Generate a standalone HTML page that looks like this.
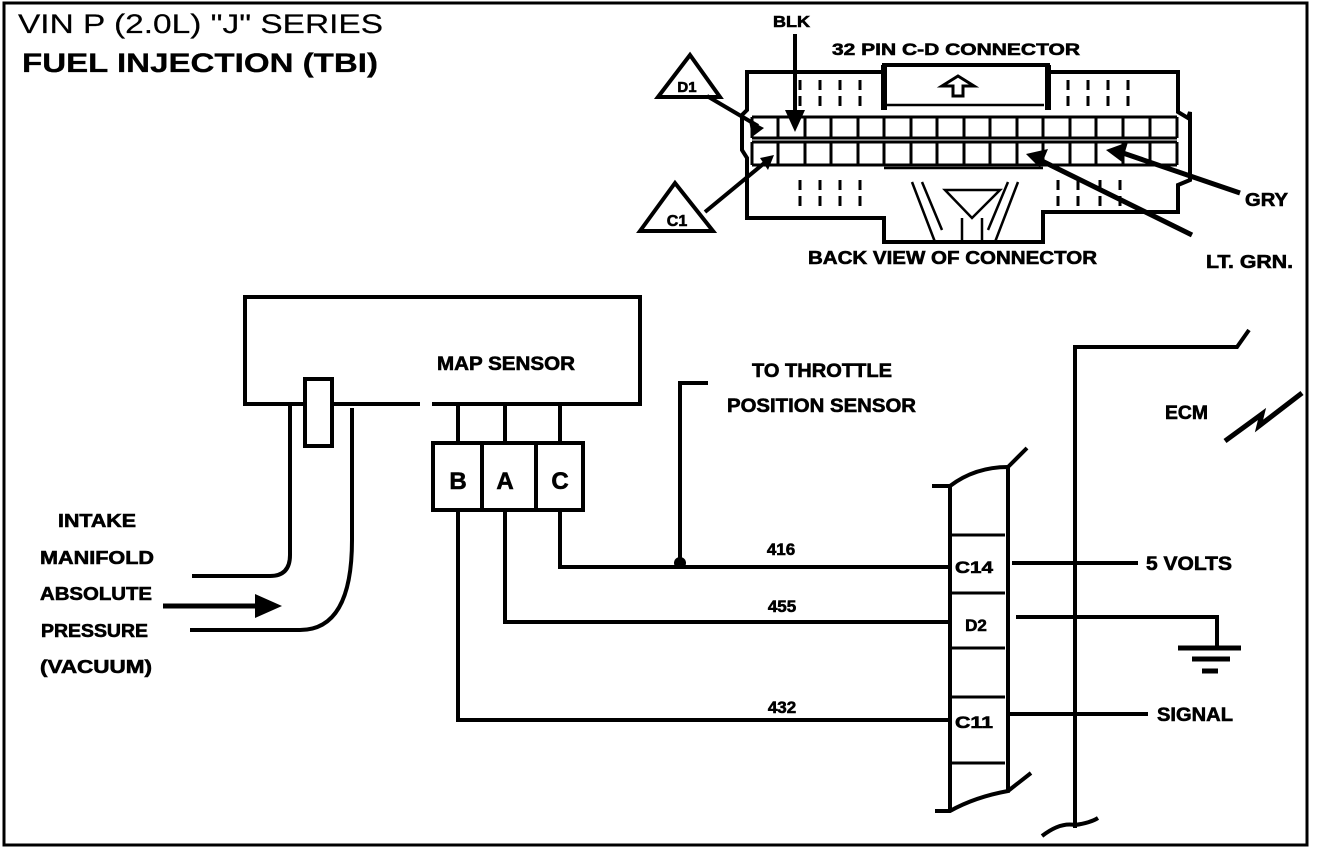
<!DOCTYPE html>
<html><head><meta charset="utf-8"><style>
html,body{margin:0;padding:0;background:#fff;}
svg{display:block;}
text{font-family:"Liberation Sans",sans-serif;font-weight:bold;fill:#000;stroke:#000;stroke-width:0.6;}
</style></head><body>
<svg width="1328" height="852" viewBox="0 0 1328 852" xmlns="http://www.w3.org/2000/svg">
<rect x="0" y="0" width="1328" height="852" fill="#fff"/>
<rect x="4" y="3" width="1303" height="842" fill="none" stroke="#000" stroke-width="3"/>
<text x="18" y="33" textLength="365" lengthAdjust="spacingAndGlyphs" style="font-weight:normal;stroke-width:0.2;font-size:27px">VIN P (2.0L) "J" SERIES</text>
<text x="22" y="72" textLength="356" lengthAdjust="spacingAndGlyphs" style="font-size:27px;stroke-width:0.3">FUEL INJECTION (TBI)</text>

<g stroke="#000" fill="none" stroke-width="4">
<path d="M747 72 H884 V65 H1048 V72 H1178 V112 L1188 118 L1190 112 V180 L1178 185 V212 H1043 V242 H884 V218 H747 V158 L742 150 V115 L747 110 Z"/>
<line x1="884" y1="65" x2="884" y2="110" stroke-width="6"/>
<line x1="1048" y1="65" x2="1048" y2="110" stroke-width="6"/>
<path d="M884 105 H1044 M884 168 H1043" stroke-width="2.5"/>
<path d="M953 96 V86 H942 L958 76 L974 86 H963 V96 Z" stroke-width="3"/>
<path d="M912 182 L935 242 M922 182 L942 230 M1018 182 L995 242 M1008 182 L988 230 M945 190 H1000 L972 218 Z M962 218 V242 M982 218 V242" stroke-width="2.5"/>
<g stroke-width="3" stroke-dasharray="10,6">
<path d="M800 80 V108 M820 80 V108 M840 80 V108 M860 80 V108 M1068 80 V108 M1088 80 V108 M1108 80 V108 M1128 80 V108"/>
<path d="M800 180 V212 M820 180 V212 M840 180 V212 M860 180 V212 M1058 180 V212 M1078 180 V212 M1100 180 V212 M1120 180 V212"/>
</g>
<g stroke-width="3">
<path d="M752 117 H1177 M752 138 H1177 M752 142 H1177 M752 165 H1177"/>
<path d="M752 117V138 M778 117V138 M805 117V138 M831 117V138 M858 117V138 M884 117V138 M911 117V138 M937 117V138 M964 117V138 M990 117V138 M1017 117V138 M1043 117V138 M1070 117V138 M1096 117V138 M1123 117V138 M1150 117V138 M1177 117V138"/>
<path d="M752 142V165 M778 142V165 M805 142V165 M831 142V165 M858 142V165 M884 142V165 M911 142V165 M937 142V165 M964 142V165 M990 142V165 M1017 142V165 M1043 142V165 M1070 142V165 M1096 142V165 M1123 142V165 M1150 142V165 M1177 142V165"/>
</g>
<path d="M658 97 L690 55 L720 97 Z"/>
<path d="M640 231 L675 183 L713 231 Z"/>
<line x1="707" y1="96" x2="758" y2="126"/>
<line x1="705" y1="212" x2="768" y2="160"/>
<line x1="795" y1="34" x2="795" y2="115" stroke-width="4"/>
<line x1="1240" y1="193" x2="1120" y2="152" stroke-width="5"/>
<line x1="1192" y1="235" x2="1040" y2="160" stroke-width="5"/>
</g>
<g fill="#000">
<path d="M785 110 L805 110 L795 132 Z"/>
<path d="M749 120 L764 128 L752 137 Z"/>
<path d="M760 158 L774 155 L768 170 Z"/>
<path d="M1106 150 L1128 142 L1122 162 Z"/>
<path d="M1026 154 L1048 149 L1040 168 Z"/>
</g>
<text x="687" y="92" font-size="15" text-anchor="middle">D1</text>
<text x="677" y="226" font-size="16" text-anchor="middle">C1</text>
<text x="773" y="27" font-size="16" textLength="37" lengthAdjust="spacingAndGlyphs">BLK</text>
<text x="832" y="55" font-size="17" textLength="248" lengthAdjust="spacingAndGlyphs">32 PIN C-D  CONNECTOR</text>
<text x="808" y="264" font-size="18" textLength="289" lengthAdjust="spacingAndGlyphs">BACK VIEW OF CONNECTOR</text>
<text x="1245" y="206" font-size="18" textLength="43" lengthAdjust="spacingAndGlyphs">GRY</text>
<text x="1206" y="268" font-size="18" textLength="87" lengthAdjust="spacingAndGlyphs">LT. GRN.</text>

<g stroke="#000" fill="none" stroke-width="4">
<path d="M420 404 H245 V297 H640 V404 H432"/>
<rect x="305" y="379" width="27" height="67" fill="#fff"/>
<path d="M290 405 V555 Q290 576 270 576 H192"/>
<path d="M352 408 V540 Q352 630 300 630 H190"/>
<line x1="163" y1="606" x2="255" y2="606" stroke-width="5"/>
<path d="M458 404 V443 M505 404 V443 M560 404 V443"/>
<rect x="433" y="443" width="150" height="67"/>
<path d="M482 443 V510 M536 443 V510"/>
<path d="M560 510 V567 H950"/>
<path d="M505 510 V622 H950"/>
<path d="M458 510 V720 H950"/>
<path d="M680 563 V383 H708"/>
<path d="M932 486 H950 V810 M935 811 H950 Q975 797 1008 791 V467 Q975 467 950 486"/>
<path d="M1008 467 L1027 448 M1008 791 L1031 773"/>
<path d="M950 535 H1005 M950 593 H1005 M950 648 H1005 M950 697 H1005 M950 763 H1005" stroke-width="3"/>
<path d="M1012 563 H1138 M1016 617 H1217 V648 M1010 714 H1148"/>
<path d="M1178 648 H1241 M1192 659 H1230 M1202 671 H1218" stroke-width="5"/>
<path d="M1075 828 V347 H1237 L1249 330"/>
<path d="M1042 836 Q1060 822 1075 825 Q1090 823 1098 818"/>
<path d="M1225 441 L1262 414 L1259 426 L1302 393" stroke-width="5"/>
</g>
<path d="M255 594 L282 606 L255 618 Z" fill="#000"/>
<circle cx="680" cy="563" r="6" fill="#000"/>
<text x="437" y="370" font-size="19" textLength="138" lengthAdjust="spacingAndGlyphs">MAP SENSOR</text>
<text x="458" y="489" font-size="24" text-anchor="middle">B</text>
<text x="505" y="489" font-size="24" text-anchor="middle">A</text>
<text x="560" y="489" font-size="24" text-anchor="middle">C</text>
<text x="752" y="377" font-size="19" textLength="140" lengthAdjust="spacingAndGlyphs">TO THROTTLE</text>
<text x="727" y="412" font-size="19" textLength="189" lengthAdjust="spacingAndGlyphs">POSITION SENSOR</text>
<g font-size="18">
<text x="58" y="527" textLength="78" lengthAdjust="spacingAndGlyphs">INTAKE</text>
<text x="40" y="564" textLength="114" lengthAdjust="spacingAndGlyphs">MANIFOLD</text>
<text x="40" y="600" textLength="112" lengthAdjust="spacingAndGlyphs">ABSOLUTE</text>
<text x="41" y="637" textLength="107" lengthAdjust="spacingAndGlyphs">PRESSURE</text>
<text x="40" y="673" textLength="112" lengthAdjust="spacingAndGlyphs">(VACUUM)</text>
</g>
<text x="781" y="555" font-size="17" text-anchor="middle">416</text>
<text x="782" y="612" font-size="17" text-anchor="middle">455</text>
<text x="782" y="713" font-size="17" text-anchor="middle">432</text>
<text x="955" y="573" font-size="17" textLength="38" lengthAdjust="spacingAndGlyphs">C14</text>
<text x="976" y="631" font-size="17" text-anchor="middle">D2</text>
<text x="955" y="728" font-size="17" textLength="38" lengthAdjust="spacingAndGlyphs">C11</text>
<text x="1146" y="570" font-size="19" textLength="86" lengthAdjust="spacingAndGlyphs">5 VOLTS</text>
<text x="1157" y="721" font-size="19" textLength="76" lengthAdjust="spacingAndGlyphs">SIGNAL</text>
<text x="1165" y="419" font-size="19" textLength="43" lengthAdjust="spacingAndGlyphs">ECM</text>
</svg>
</body></html>
